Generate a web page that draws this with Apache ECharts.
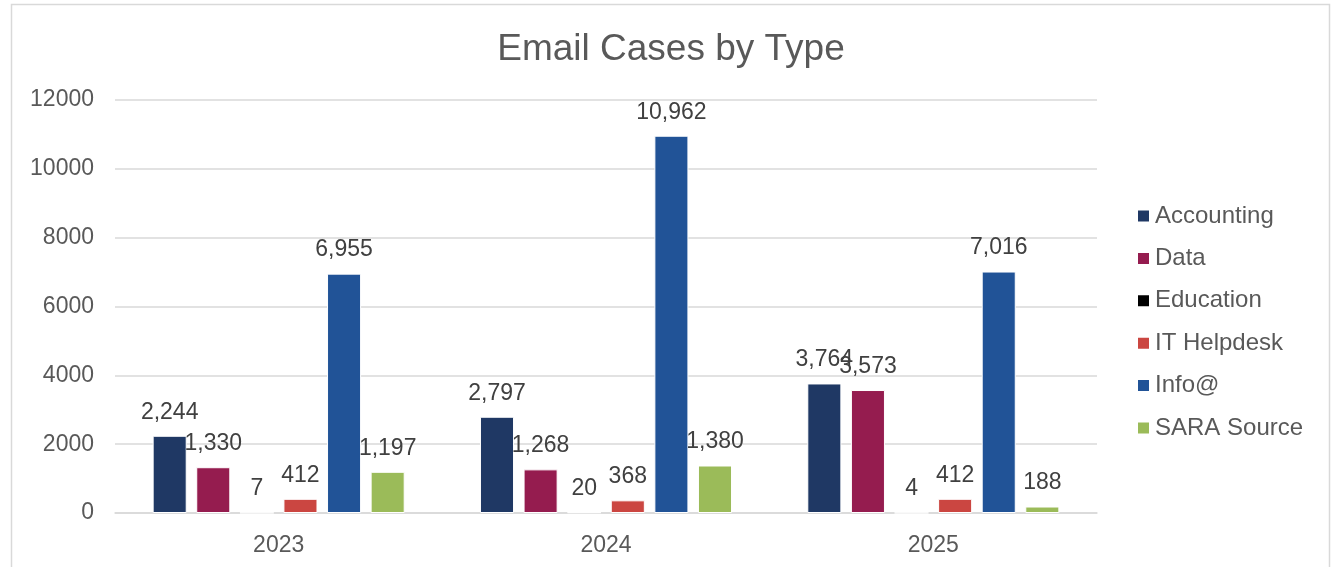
<!DOCTYPE html>
<html>
<head>
<meta charset="utf-8">
<script src="https://cdn.jsdelivr.net/npm/echarts@6/dist/echarts.min.js"></script>
<style>
  html, body { margin: 0; padding: 0; background: #fff; }
  #main { width: 1335px; height: 567px; }
</style>
</head>
<body>
<div id="main"></div>
<script>
// data
const years = ["2023", "2024", "2025"];
const accounting = [2244, 2797, 3764];
const dataCases = [1330, 1268, 3573];
const education = [7, 20, 4];
const itHelpdesk = [412, 368, 412];
const info = [6955, 10962, 7016];
const saraSource = [1197, 1380, 188];
const yTicks = [0, 2000, 4000, 6000, 8000, 10000, 12000];

const seriesDefs = [
  { name: "Accounting", data: accounting, color: "#1f3864" },
  { name: "Data", data: dataCases, color: "#951c4f" },
  { name: "Education", data: education, color: "#000000" },
  { name: "IT Helpdesk", data: itHelpdesk, color: "#cb4641" },
  { name: "Info@", data: info, color: "#215397" },
  { name: "SARA Source", data: saraSource, color: "#9bbb59" }
];

const chart = echarts.init(document.getElementById("main"));

const option = {
  animation: false,
  textStyle: { fontFamily: "Liberation Sans, Arial, sans-serif" },
  graphic: [{
    type: "rect",
    shape: { x: 11.5, y: 4.5, width: 1318, height: 620 },
    style: { fill: "none", stroke: "#d9d9d9", lineWidth: 1.5 },
    silent: true
  }],
  title: {
    text: "Email Cases by Type",
    left: 666,
    textAlign: "center",
    top: 26,
    textStyle: { fontSize: 37, fontWeight: "normal", color: "#595959" }
  },
  legend: {
    orient: "vertical",
    left: 1131,
    top: 199,
    itemWidth: 13,
    itemHeight: 13,
    itemGap: 18.4,
    icon: "rect",
    textStyle: { fontSize: 24, lineHeight: 24, color: "#595959" },
    data: seriesDefs.map(s => s.name)
  },
  grid: { left: 115, right: 238, top: 100, bottom: 54, containLabel: false },
  xAxis: {
    type: "category",
    data: years,
    axisLine: { lineStyle: { color: "#d9d9d9", width: 1.5 } },
    axisTick: { show: false },
    axisLabel: { fontSize: 23, color: "#595959", margin: 21 }
  },
  yAxis: {
    type: "value",
    min: yTicks[0],
    max: yTicks[yTicks.length - 1],
    interval: 2000,
    axisLine: { show: false },
    axisTick: { show: false },
    splitLine: { lineStyle: { color: "#d9d9d9", width: 1.5 } },
    axisLabel: { fontSize: 23, color: "#595959", margin: 21, formatter: v => String(v) }
  },
  series: seriesDefs.map(s => ({
    name: s.name,
    type: "bar",
    data: s.data,
    barGap: "28%",
    barCategoryGap: "23%",
    itemStyle: { color: s.color, borderColor: "#ffffff", borderWidth: 1 },
    label: {
      show: true,
      position: "top",
      distance: 12,
      fontSize: 23,
      color: "#404040",
      formatter: p => p.value.toLocaleString("en-US")
    }
  }))
};

chart.setOption(option);
</script>
</body>
</html>
